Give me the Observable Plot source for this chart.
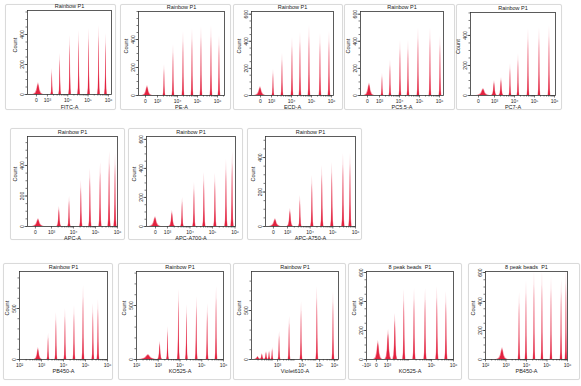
<!DOCTYPE html>
<html><head><meta charset="utf-8">
<script src="https://cdn.jsdelivr.net/npm/d3@7"></script>
<script src="https://cdn.jsdelivr.net/npm/@observablehq/plot@0.6"></script>
<style>
body{margin:0;background:#fff;font-family:"Liberation Sans",Arial,sans-serif;}
#root{position:relative;width:581px;height:386px;overflow:hidden;background:#fff;}
.box{position:absolute;border:1px solid #dadada;box-sizing:border-box;border-radius:2px;background:#fff;box-shadow:0 0 1px rgba(0,0,0,0.08);}
.box svg{position:absolute;left:0;top:0;overflow:visible;}
</style></head><body><div id="root"></div>
<script>
// ---- data: peak positions (decade units on the display axis), counts ----
const fitcPos = [2.56,3.24,3.63,4.12,4.56,5.05,5.54,5.88];
const fitcCount = [80,173,273,393,427,440,460,407];
const pePos = [2.5,3.35,3.8,4.3,4.75,5.2,5.7,6.1];
const peCount = [71,221,364,457,479,493,500,429];
const ecdPos = [2.45,3.1,3.55,4.05,4.45,4.9,5.45,5.9];
const ecdCount = [67,193,311,430,467,519,459,474];
const pc55Pos = [2.5,3.15,3.55,4.05,4.45,4.95,5.55,6.05];
const pc55Count = [93,164,264,407,407,500,500,443];
const pc7Pos = [2.45,3.0,3.35,3.8,4.2,4.7,5.25,5.75];
const pc7Count = [47,100,120,213,280,447,453,467];
const apcPos = [2.41,3.36,3.82,4.36,4.77,5.23,5.64,5.91];
const apcCount = [52,131,197,302,380,420,492,479];
const a700Pos = [2.47,3.22,3.67,4.2,4.64,5.13,5.62,5.89];
const a700Count = [69,110,200,303,372,366,462,517];
const a750Pos = [2.47,3.13,3.57,4.1,4.54,4.98,5.47,5.78];
const a750Count = [46,104,180,296,354,371,423,429];
const pb450Pos = [2.86,3.32,3.68,4.09,4.5,4.91,5.36,5.59];
const pb450Count = [118,255,461,500,529,725,549,588];
const ko525Pos = [2.55,3.09,3.45,3.95,4.32,4.77,5.27,5.68];
const ko525Count = [46,167,306,648,509,583,519,676];
const v610Pos = [2.3,2.5,2.69,2.83,2.97,3.29,3.75,4.3,5.03,5.77];
const v610Count = [30,61,82,90,122,286,440,592,745,694];
const ko8Pos = [2.59,3.05,3.36,3.77,4.23,4.73,5.27,5.68];
const ko8Count = [131,207,317,483,490,490,503,469];
const pb8Pos = [2.83,3.66,4.0,4.39,4.78,5.22,5.71,5.95];
const pb8Count = [83,462,545,610,610,572,552,620];

const biexTicks = [3,4,5,6];
const biexLabels = ["0","10³","10⁴","10⁵","10⁶"];
const logTicks = [2,3,4,5,6];
const logLabels = ["10²","10³","10⁴","10⁵","10⁶"];

const PROFILE = [[-1,0],[-0.6,0.1],[-0.35,0.35],[-0.15,0.8],[0,1],[0.12,0.8],[0.3,0.35],[0.55,0.1],[0.9,0]];
function areaRows(pos,cnt,wid,hs,ws){
  const rows=[];
  pos.forEach((c,i)=>PROFILE.forEach(([dx,f])=>rows.push({peak:i,x:c+dx*wid[i]*ws,y:cnt[i]*f*hs})));
  return rows;
}
function widths(n, first, rest, extra){ const w=[first]; for(let i=1;i<n;i++) w.push(rest); if(extra) Object.entries(extra).forEach(([k,v])=>w[+k]=v); return w; }

const root=document.getElementById("root");
function drawPanel(p){
  const [bx,by,bw,bh]=p.box,[fl,ft,fr,fb]=p.frame;
  const div=document.createElement("div"); div.className="box";
  Object.assign(div.style,{left:bx+"px",top:by+"px",width:bw+"px",height:bh+"px"});
  const W=bw-2,H=bh-2,ox=bx+1,oy=by+1;
  const mL=fl-ox,mT=ft-oy,mR=ox+W-fr,mB=oy+H-fb;
  const pink=areaRows(p.pos,p.cnt,p.wid,1,1), red=areaRows(p.pos,p.cnt,p.wid,0.84,0.75);
  const minorY=d3.range(0,p.ymax+1,p.ystep);
  const minorX=[];
  for(let d=1;d<7;d++) for(let k=2;k<10;k++){const u=d+Math.log10(k); if(u>p.xmin && u>p.xdom[0] && u<p.xdom[1]) minorX.push(u);}
  const lab=new Map(p.xticks.map((t,i)=>[t,p.xlabels[i]]));
  const chart=Plot.plot({width:W,height:H,marginLeft:mL,marginTop:mT,marginRight:mR,marginBottom:mB,
    style:{fontFamily:"Liberation Sans, Arial, sans-serif",background:"transparent",overflow:"visible",color:"#222"},
    x:{domain:p.xdom}, y:{domain:[0,p.ymax]},
    marks:[
      Plot.areaY(pink,{x:"x",y:"y",z:"peak",fill:"#f3a0ad",clip:true}),
      Plot.areaY(red,{x:"x",y:"y",z:"peak",fill:"#e3223f",clip:true}),
      Plot.axisY({ticks:minorY,tickSize:1.5,tickFormat:()=>"",label:null,strokeWidth:0.6}),
      Plot.axisY({ticks:p.yticks,tickSize:2.5,tickRotate:-90,fontSize:5,tickPadding:1,label:null,strokeWidth:0.6}),
      Plot.axisX({ticks:minorX,tickSize:1.5,tickFormat:()=>"",label:null,strokeWidth:0.6}),
      Plot.axisX({ticks:p.xticks,tickFormat:d=>lab.get(d),tickSize:2.5,fontSize:5,tickPadding:1,label:null,strokeWidth:0.6}),
      Plot.frame({stroke:"#333",strokeWidth:0.8}),
      Plot.text([p.title],{frameAnchor:"top",dy:-2.5,lineAnchor:"bottom",fontSize:5.5}),
      Plot.text([p.xlabel],{frameAnchor:"bottom",dy:p.xlabDy,lineAnchor:"middle",fontSize:5.5}),
      Plot.text(["Count"],{frameAnchor:"left",dx:-12,rotate:-90,fontSize:5.5})
    ]});
  div.appendChild(chart); root.appendChild(div);
}

const R="Rainbow P1", E="8 peak beads  P1";
const panels=[
 {box:[5,4,111,106],frame:[27,10,111,94],title:R,xlabel:"FITC-A",pos:fitcPos,cnt:fitcCount,wid:widths(8,0.28,0.075),xdom:[2.02,6.15],xticks:[2.46,...biexTicks],xlabels:biexLabels,xmin:3,ymax:560,yticks:[0,200,400],ystep:50,xlabDy:12.5},
 {box:[120,4,111,106],frame:[138,11,224,95],title:R,xlabel:"PE-A",pos:pePos,cnt:peCount,wid:widths(8,0.28,0.075),xdom:[2.05,6.35],xticks:[2.4,...biexTicks],xlabels:biexLabels,xmin:3,ymax:600,yticks:[0,200,400],ystep:50,xlabDy:12},
 {box:[233,4,110,106],frame:[251,11,333,95],title:R,xlabel:"ECD-A",pos:ecdPos,cnt:ecdCount,wid:widths(8,0.3,0.075),xdom:[2.0,6.1],xticks:[2.45,...biexTicks],xlabels:biexLabels,xmin:3,ymax:620,yticks:[0,200,400,600],ystep:50,xlabDy:12},
 {box:[344,4,111,106],frame:[360,11,443,95],title:R,xlabel:"PC5.5-A",pos:pc55Pos,cnt:pc55Count,wid:widths(8,0.28,0.075),xdom:[2.05,6.2],xticks:[2.4,...biexTicks],xlabels:biexLabels,xmin:3,ymax:620,yticks:[0,200,400,600],ystep:50,xlabDy:12},
 {box:[456,4,106,106],frame:[470,12,555,95],title:R,xlabel:"PC7-A",pos:pc7Pos,cnt:pc7Count,wid:widths(8,0.35,0.075,{1:0.15,2:0.13}),xdom:[1.8,6.05],xticks:[2.2,...biexTicks],xlabels:biexLabels,xmin:3,ymax:553,yticks:[0,200,400],ystep:50,xlabDy:12},
 {box:[10,128,115,112],frame:[27,136,117,226],title:R,xlabel:"APC-A",pos:apcPos,cnt:apcCount,wid:widths(8,0.3,0.08,{1:0.12}),xdom:[1.91,6.0],xticks:[2.27,...biexTicks],xlabels:biexLabels,xmin:3,ymax:590,yticks:[0,200,400],ystep:50,xlabDy:12},
 {box:[128,128,115,112],frame:[146,136,235,226],title:R,xlabel:"APC-A700-A",pos:a700Pos,cnt:a700Count,wid:widths(8,0.28,0.08,{1:0.16}),xdom:[2.07,6.02],xticks:[2.47,...biexTicks],xlabels:biexLabels,xmin:3,ymax:620,yticks:[0,200,400,600],ystep:50,xlabDy:12},
 {box:[247,128,115,112],frame:[265,136,355,226],title:R,xlabel:"APC-A750-A",pos:a750Pos,cnt:a750Count,wid:widths(8,0.28,0.08,{1:0.15}),xdom:[2.03,6.0],xticks:[2.38,...biexTicks],xlabels:biexLabels,xmin:3,ymax:522,yticks:[0,200,400],ystep:50,xlabDy:12},
 {box:[3,263,110,117],frame:[19,271,107,359],title:R,xlabel:"PB450-A",pos:pb450Pos,cnt:pb450Count,wid:widths(8,0.2,0.07),xdom:[2,6],xticks:logTicks,xlabels:logLabels,xmin:2,ymax:863,yticks:[0,500],ystep:100,xlabDy:12},
 {box:[118,263,113,117],frame:[136,271,223,359],title:R,xlabel:"KO525-A",pos:ko525Pos,cnt:ko525Count,wid:widths(8,0.45,0.07,{1:0.12}),xdom:[2,6],xticks:logTicks,xlabels:logLabels,xmin:2,ymax:815,yticks:[0,500],ystep:100,xlabDy:12},
 {box:[233,263,113,117],frame:[251,271,338,359],title:R,xlabel:"Violet610-A",pos:v610Pos,cnt:v610Count,wid:widths(10,0.2,0.07,{1:0.12,2:0.1,3:0.08,4:0.07}),xdom:[2,6],xticks:[3.2,4.34,5.13,5.82],xlabels:["10³","10⁴","10⁵","10⁶"],xmin:2,ymax:898,yticks:[0,500],ystep:100,xlabDy:12},
 {box:[348,263,114,117],frame:[366,271,453,359],title:E,xlabel:"KO525-A",pos:ko8Pos,cnt:ko8Count,wid:widths(8,0.22,0.08,{1:0.17,2:0.12}),xdom:[2.05,6.0],xticks:[2.05,2.5,3,5,6],xlabels:["-10²","0","10³","10⁵","10⁶"],xmin:3,ymax:607,yticks:[0,200,400,600],ystep:50,xlabDy:12},
 {box:[468,263,112,117],frame:[485,271,567,359],title:E,xlabel:"PB450-A",pos:pb8Pos,cnt:pb8Count,wid:widths(8,0.3,0.07),xdom:[2,6],xticks:logTicks,xlabels:logLabels,xmin:2,ymax:607,yticks:[0,200,400,600],ystep:50,xlabDy:12}
];
panels.forEach(drawPanel);
</script></body></html>
